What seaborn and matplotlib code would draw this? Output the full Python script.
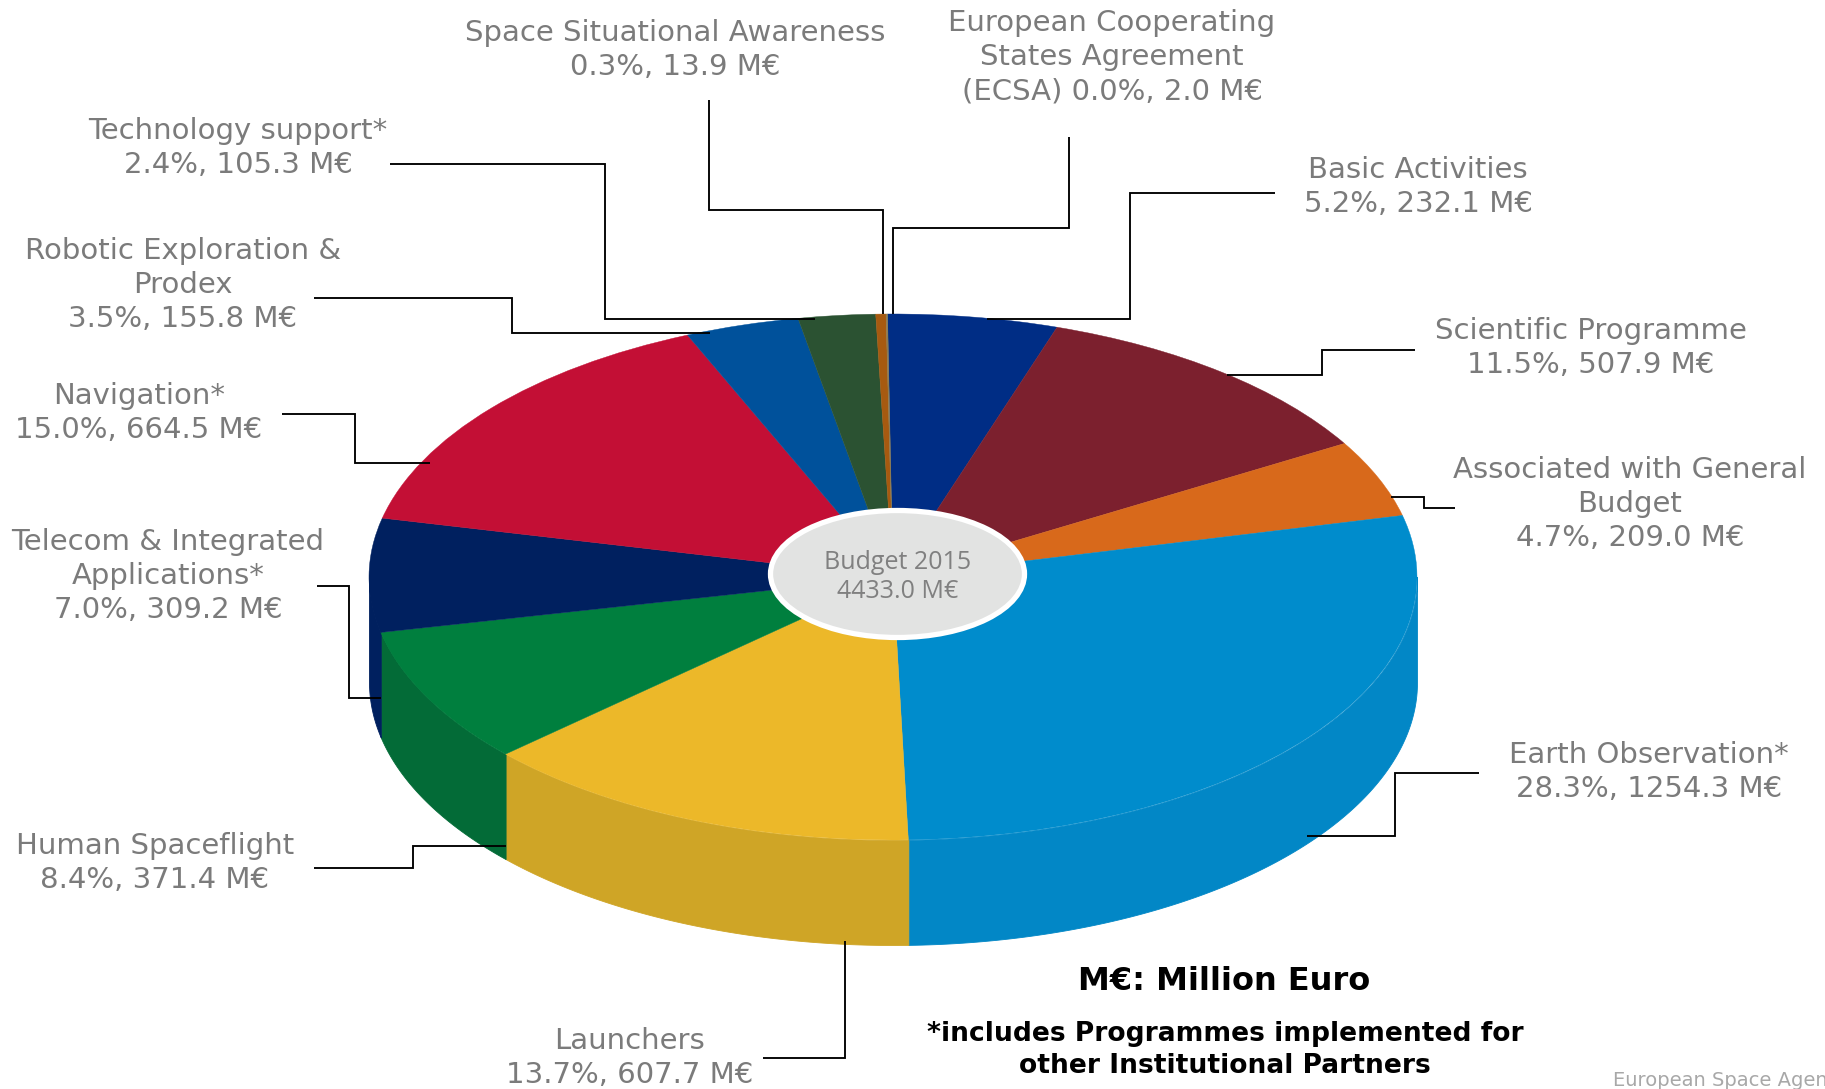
import matplotlib
matplotlib.use("Agg")
import matplotlib.pyplot as plt
from matplotlib.patches import Ellipse
import numpy as np
import seaborn as sns

# ---- data (clockwise from 12 o'clock) ----
programmes = ["Basic Activities", "Scientific Programme", "Associated with General\nBudget",
              "Earth Observation*", "Launchers", "Human Spaceflight",
              "Telecom & Integrated\nApplications*", "Navigation*", "Robotic Exploration &\nProdex",
              "Technology support*", "Space Situational Awareness",
              "European Cooperating\nStates Agreement\n(ECSA)"]
budget_meur = [232.1, 507.9, 209.0, 1254.3, 607.7, 371.4, 309.2, 664.5, 155.8, 105.3, 13.9, 2.0]
share_pct = [5.2, 11.5, 4.7, 28.3, 13.7, 8.4, 7.0, 15.0, 3.5, 2.4, 0.3, 0.0]
top_colors = ["#002d85", "#7c202e", "#d8691b", "#008ccc", "#ecb829", "#007f3e",
              "#00205f", "#c30f35", "#00519b", "#2b5232", "#a65a10", "#8a7a50"]
side_colors = ["#002468", "#631a25", "#ad5416", "#0287c6", "#cfa526", "#036b37",
               "#00205f", "#9c0c2a", "#00417c", "#224228", "#85480d", "#6e6240"]
total_label = "Budget 2015\n4433.0 M€"
note_title = "M€: Million Euro"
note_body = "*includes Programmes implemented for\nother Institutional Partners"
credit = "European Space Agency"

# label centres and leader paths, in figure pixels (layout only)
label_xy = [(1418, 187), (1591, 348), (1630, 504), (1649, 772), (630, 1058), (155, 863),
            (168, 576), (139, 413), (183, 285), (238, 148), (675, 50), (1112, 57)]
leaders = [
    [(1275, 193), (1130, 193), (1130, 319), (987, 319)],
    [(1415, 350), (1322, 350), (1322, 375), (1227, 375)],
    [(1455, 508), (1424, 508), (1424, 497), (1391, 497)],
    [(1479, 773), (1395, 773), (1395, 836), (1307, 836)],
    [(763, 1058), (845, 1058), (845, 941)],
    [(314, 868), (413, 868), (413, 846), (506, 846)],
    [(317, 586), (349, 586), (349, 698), (381, 698)],
    [(282, 414), (355, 414), (355, 463), (430, 463)],
    [(314, 298), (512, 298), (512, 333), (710, 333)],
    [(390, 164), (605, 164), (605, 319), (815, 319)],
    [(709, 100), (709, 210), (883, 210), (883, 314)],
    [(1069, 137), (1069, 228), (893, 228), (893, 314)],
]

W, H = 1825, 1089
CX, CY, RX, RY, DEPTH = 893, 577, 524, 263, 105
ROTATE = 0.6
GRAY = "#7b7b7b"

sns.set_theme(style="white")
fig = plt.figure(figsize=(W / 100, H / 100), dpi=100, facecolor="white")
ax = fig.add_axes([0, 0, 1, 1])

# extruded rim: only the part of each slice on the near half of the ellipse
edges = np.concatenate([[0], np.cumsum(budget_meur)]) / np.sum(budget_meur) * 360 - ROTATE
d = DEPTH / RY
for a0, a1, col in zip(edges[:-1], edges[1:], sns.color_palette(side_colors)):
    lo, hi = max(a0, 90), min(a1, 270)
    if hi > lo:
        t = np.radians(np.linspace(lo, hi, 120))
        ax.fill_between(np.sin(t), np.cos(t), np.cos(t) - d, color=col, lw=0.6, zorder=1)

wedges, _ = ax.pie(budget_meur, colors=sns.color_palette(top_colors), startangle=90 + ROTATE,
                   counterclock=False, radius=1, center=(0, 0),
                   wedgeprops=dict(linewidth=0.3, zorder=2))
for w, c in zip(wedges, top_colors):
    w.set_edgecolor(c)
    w.set_zorder(2)
ax.set_aspect("auto")
ax.set_xlim((0 - CX) / RX, (W - CX) / RX)
ax.set_ylim((CY - H) / RY, CY / RY)
ax.axis("off")

# overlay in figure pixels for annotation furniture
ov = fig.add_axes([0, 0, 1, 1], facecolor="none")
ov.set_xlim(0, W)
ov.set_ylim(H, 0)
ov.axis("off")

ov.add_patch(Ellipse((897.5, 574), 254, 127, facecolor="#e2e3e2", edgecolor="white", lw=3.8, zorder=3))
ov.text(897.5, 577, total_label, ha="center", va="center", fontsize=18, color="#808080",
        family=["Open Sans", "DejaVu Sans"], linespacing=1.2, zorder=4)

for path in leaders:
    xs, ys = zip(*path)
    ov.plot(xs, ys, color="black", lw=1.35, solid_joinstyle="miter", solid_capstyle="butt", zorder=5)

for name, pct, val, (x, y) in zip(programmes, share_pct, budget_meur, label_xy):
    sep = " " if name.endswith("(ECSA)") else "\n"
    ov.text(x, y, f"{name}{sep}{pct:.1f}%, {val:.1f} M€", ha="center", va="center",
            multialignment="center", fontsize=21, color=GRAY, linespacing=1.29,
            family="DejaVu Sans", zorder=6)

ov.text(1224, 982, note_title, ha="center", va="center", fontsize=23, fontweight="bold",
        color="black", family="DejaVu Sans")
ov.text(1225, 1050, note_body, ha="center", va="center", multialignment="center", fontsize=19.05,
        fontweight="bold", color="black", family="DejaVu Sans", linespacing=1.27)
ov.text(1613, 1080, credit, ha="left", va="center", fontsize=14, color="#a8a8a8",
        family=["Liberation Sans Narrow", "DejaVu Sans"], clip_on=True)

fig.savefig("out.png", dpi=100, facecolor="white")
